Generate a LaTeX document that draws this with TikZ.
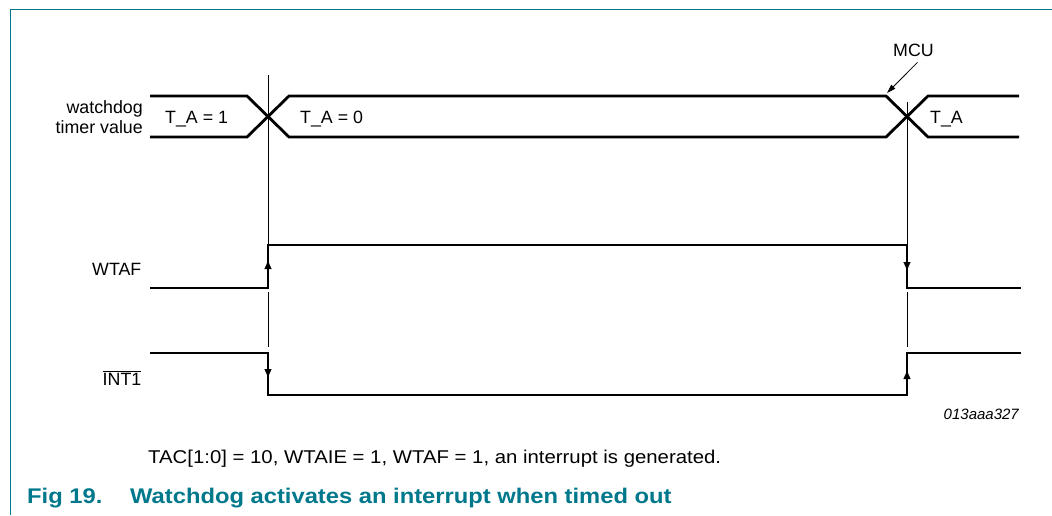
\documentclass[tikz,border=0pt]{standalone}
\usepackage{fontspec}
\setmainfont{Liberation Sans}
\newfontfamily\capfont[FakeStretch=1.1]{Liberation Sans}
\newfontfamily\capbfont[FakeStretch=1.12]{Liberation Sans Bold}
\usetikzlibrary{arrows.meta}
\definecolor{nxpteal}{RGB}{0,120,140}
\tikzset{
  sig/.style={line width=2.8pt, line join=miter},
  guide/.style={line width=0.9pt},
  edgearrow/.style={-{Triangle[length=8pt,width=7pt]}, line width=0.1pt},
  lbl/.style={inner sep=0pt, font=\fontsize{17.8}{20}\selectfont},
}
\begin{document}
\begin{tikzpicture}[x=1pt,y=-1pt]
\useasboundingbox (0,0) rectangle (1052,515);
% frame
\draw[nxpteal, line width=1.4pt] (10.5,515) -- (10.5,9.5) -- (1052,9.5);

% guide lines
\coordinate (gA1) at (268,75);
\coordinate (gA2) at (268,245);
\coordinate (gA3) at (268,292);
\coordinate (gA4) at (268,347);
\coordinate (gB1) at (907,102);
\coordinate (gB2) at (907,245);
\coordinate (gB3) at (907,292);
\coordinate (gB4) at (907,347);
\draw[guide] (gA1) -- (gA2);
\draw[guide] (gA3) -- (gA4);
\draw[guide] (gB1) -- (gB2);
\draw[guide] (gB3) -- (gB4);

% watchdog timer value bus
\draw[sig] (150,96) -- (247,96) -- (289,137) -- (886,137) -- (928,96) -- (1019,96);
\draw[sig] (150,137) -- (247,137) -- (289,96) -- (886,96) -- (928,137) -- (1019,137);

% WTAF
\draw[sig] (150,288) -- (268,288) -- (268,245) -- (907,245) -- (907,288) -- (1021,288);
% INT1
\draw[sig] (150,353) -- (268,353) -- (268,395) -- (907,395) -- (907,353) -- (1021,353);

% edge arrows
\coordinate (a1s) at (268,271); \coordinate (a1e) at (268,261);
\coordinate (a2s) at (907,260); \coordinate (a2e) at (907,270);
\coordinate (a3s) at (268,367); \coordinate (a3e) at (268,377);
\coordinate (a4s) at (907,381); \coordinate (a4e) at (907,371);
\draw[edgearrow] (a1s) -- (a1e);
\draw[edgearrow] (a2s) -- (a2e);
\draw[edgearrow] (a3s) -- (a3e);
\draw[edgearrow] (a4s) -- (a4e);

% labels
\node[lbl, anchor=base east] (wd1) at (143,113) {watchdog};
\node[lbl, anchor=base east] (wd2) at (143,133.5) {timer value};
\node[lbl, anchor=base west] (ta1) at (165,123) {T\_A = 1};
\node[lbl, anchor=base west] (ta0) at (300,123) {T\_A = 0};
\node[lbl, anchor=base west] (ta) at (930,123) {T\_A};
\node[lbl, anchor=base east] (wtaf) at (141.5,275) {WTAF};
\node[lbl, anchor=base east] (int1) at (141.5,385) {$\overline{\mbox{INT1}}$};

% MCU annotation
\node[lbl, anchor=base] (mcu) at (913.5,56) {MCU};
\coordinate (mcuTip) at (887,93);
\draw[line width=0.8pt, -{Triangle[length=9pt,width=5.5pt]}] (mcu.south) ++(4,6) -- (mcuTip);

% figure id
\node[inner sep=0pt, anchor=base east, font=\fontsize{15}{18}\selectfont\itshape] (fid) at (1019,419) {013aaa327};

% captions
\node[inner sep=0pt, anchor=base west, font=\capfont\fontsize{18.5}{22}\selectfont] (note) at (148,463)
  {TAC[1:0] = 10, WTAIE = 1, WTAF = 1, an interrupt is generated.};
\node[inner sep=0pt, anchor=base west, text=nxpteal, font=\capbfont\fontsize{21.2}{25}\selectfont] (fig) at (27,503) {Fig 19.};
\node[inner sep=0pt, anchor=base west, text=nxpteal, font=\capbfont\fontsize{21.2}{25}\selectfont] (title) at (130,503)
  {Watchdog activates an interrupt when timed out};
\end{tikzpicture}
\end{document}
